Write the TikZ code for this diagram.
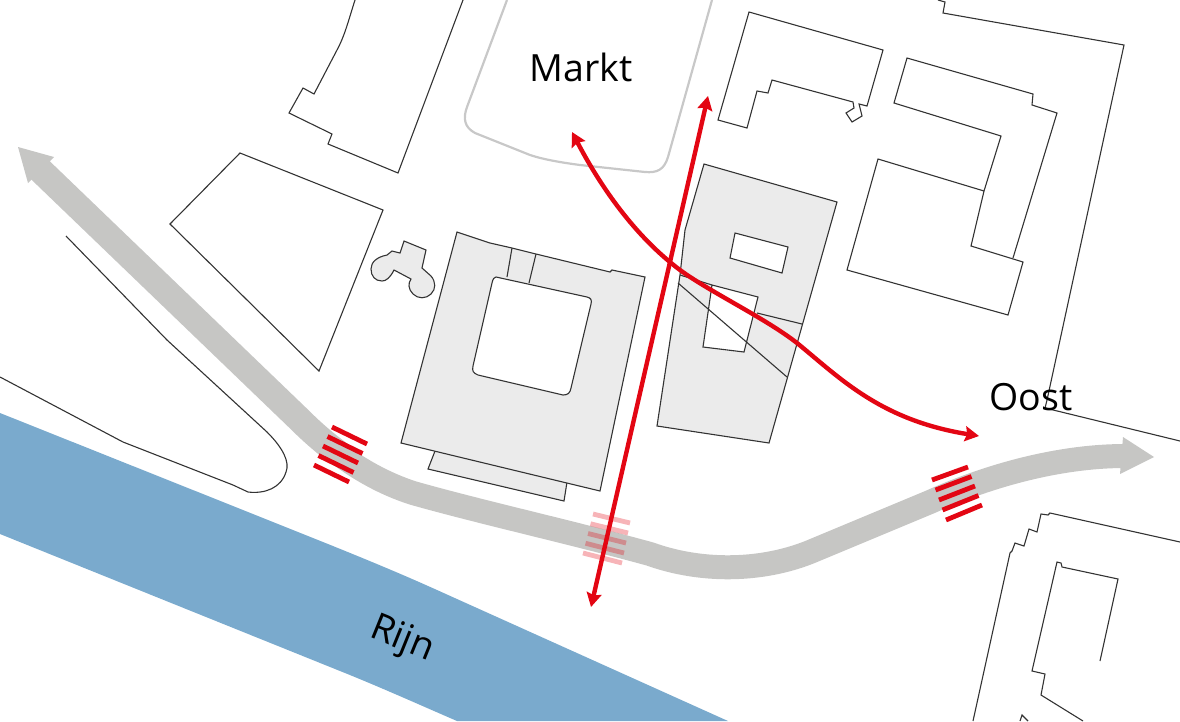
\documentclass[tikz,border=0pt]{standalone}
\usepackage{fontspec}
\setmainfont{Open Sans}
\usetikzlibrary{arrows.meta}
\definecolor{bldfill}{HTML}{EBEBEB}
\definecolor{roadgrey}{HTML}{C6C6C4}
\definecolor{river}{HTML}{7AAACD}
\definecolor{redline}{HTML}{E30613}
\definecolor{outline}{HTML}{333333}
\definecolor{marktline}{HTML}{C8C8C8}
\tikzset{
  bld/.style={draw=outline,line width=1.1pt,line join=miter},
  bldgrey/.style={bld,fill=bldfill},
  hole/.style={bld,fill=white},
  crossing/.style={line width=4.8pt,draw=redline},
  routeboth/.style={draw=redline,line width=4.4pt,{Stealth[length=14pt,width=15pt,inset=2pt]}-{Stealth[length=14pt,width=15pt,inset=2pt]}},
  lbl/.style={font=\fontsize{37.5}{40}\selectfont,inner sep=0pt,text=black}
}
\begin{document}
\begin{tikzpicture}[x=1pt,y=-1pt]
\useasboundingbox (0,0) rectangle (1180,721);
% river
\fill[river] (0,413) -- (243,510) .. controls (310,537) and (375,562) .. (437,590) -- (728,721) -- (457,721) .. controls (420,705) and (380,687) .. (340,671) -- (0,534) -- cycle;
% market square
\draw[marktline,line width=2.2pt] (507,0) -- (467,107) .. controls (463,118) and (464,127) .. (475,133) -- (530,155) .. controls (545,160) and (565,163) .. (580,165) -- (645,172) .. controls (657,173) and (664,170) .. (668,157) -- (712,0);
% plain buildings
\draw[bld] (355,0) .. controls (348,22) and (345,35) .. (337,50) -- (314,94) -- (303,88) -- (289,113) -- (332,134) -- (328,144) -- (398,173) -- (463,0);
\draw[bld] (240,153) -- (383,210) -- (319,371) -- (170,224) -- cycle;
\draw[bld] (749,12) -- (883,50) -- (867,106) -- (859,104) -- (862,116) -- (852,122) -- (846,113) -- (854,108) -- (853,102) -- (772,80) -- (768,93) -- (757,91) -- (747,128) -- (718,120) -- cycle;
\draw[bld] (984,191) -- (1001,136) -- (894,103) -- (907,58) -- (1033,94) -- (1032,105) -- (1057,113) -- (1013,258);
\draw[bld] (878,159) -- (984,191) -- (971,246) -- (1023,262) -- (1008,315) -- (847,270) -- cycle;
\draw[bld] (938,0) -- (945,2) -- (943,13) -- (1124,45) -- (1047,400) -- (1045,408) -- (1180,441);
\draw[bld] (973,721) -- (1010,553) -- (1012,551) -- (1015,543) -- (1024,546) -- (1029,529) -- (1037,532) -- (1041,514) -- (1048,515) -- (1050,513) -- (1180,542);
\draw[bld] (1100,661) -- (1118,579) -- (1062,567) -- (1061,563) -- (1057,562) -- (1032,671) -- (1045,674) -- (1041,695) -- (1083,721);
\draw[bld] (1020,721) -- (1022,715) -- (1028,721);
% road edge line
\draw[bld,line join=round] (66,236) -- (167,340) -- (267,432) .. controls (283,448) and (290,462) .. (286,472) .. controls (281,488) and (265,494) .. (248,492) -- (233,485) -- (123,442) -- (0,377);
% grey road with arrowheads
\draw[roadgrey,line width=26pt] (36,166) -- (300,420) .. controls (313,433) and (327,445) .. (341,455);
\draw[roadgrey,line width=24pt] (335,451) .. controls (358,469) and (385,484) .. (413,493) .. controls (480,512) and (570,532) .. (650,554) .. controls (700,572) and (760,572) .. (810,552) -- (930,502) .. controls (990,475) and (1060,456) .. (1125,456);
\fill[roadgrey] (18,147) -- (54,157) -- (28,183) -- cycle;
\fill[roadgrey] (1154,457) -- (1123,437) -- (1120,474) -- cycle;
% main building
\draw[bldgrey] (435,451) -- (428,469) -- (564,501) -- (567,482);
\draw[bldgrey] (457,232) -- (490,243) -- (512,248) -- (536,254) -- (610,272) -- (612,270) -- (645,277) -- (600,491) -- (401,443) -- cycle;
\draw[bld] (507,277) -- (512,248);
\draw[bld] (529,283) -- (536,254);
\draw[hole] (496,277) -- (587,297) .. controls (591,298) and (592,300) .. (591,304) -- (571,388) .. controls (570,393) and (568,395) .. (563,395) -- (478,375) .. controls (473,373) and (472,371) .. (473,366) -- (492,283) .. controls (493,279) and (494,277) .. (496,277) -- cycle;
% blob
\draw[bldgrey] (404,241) -- (426,250) -- (422,268) -- (431,276) .. controls (436,282) and (436,289) .. (431,294) .. controls (426,299) and (418,299) .. (413,294) .. controls (408,289) and (408,283) .. (411,279) -- (394,270) .. controls (390,278) and (386,281) .. (382,281) .. controls (375,281) and (371,276) .. (371,269) .. controls (371,262) and (377,257) .. (387,255) -- (392,251) -- (400,253) -- cycle;
% centre building
\draw[bldgrey] (704,164) -- (837,202) -- (769,443) -- (657,426) -- (680,275) -- (685,230) -- cycle;
\draw[hole] (735,233) -- (788,247) -- (782,273) -- (730,258) -- cycle;
\draw[hole] (712,285) -- (758,297) -- (744,352) -- (703,347) -- cycle;
\draw[bld] (680,275) -- (712,285);
\draw[bld] (678,283) -- (787,377);
\draw[bld] (757,313) -- (802,324);
% crossings
\foreach \i in {0,...,4}{
  \draw[crossing] ({332-18*\i/4},{427+38*\i/4}) -- ({367-18*\i/4},{444+38*\i/4});
  \draw[crossing] ({932+14*\i/4},{480+40*\i/4}) -- ({968+14*\i/4},{467+38*\i/4});
  \draw[crossing,opacity=.3] ({593-10*\i/4},{514+39*\i/4}) -- ({630-8*\i/4},{523+40*\i/4});
}
% routes
\coordinate (nTop) at (708,96);
\coordinate (nBot) at (591,607);
\coordinate (rStart) at (572,132);
\coordinate (rEnd) at (979,436);
\draw[routeboth] (nBot) -- (nTop);
\draw[routeboth] (rStart) .. controls (605,195) and (640,240) .. (680,270) .. controls (710,292) and (765,318) .. (797,343) .. controls (840,378) and (880,420) .. (rEnd);
% labels
\node[lbl] (markt) at (581,67) {Markt};
\node[lbl] (oost) at (1031,397) {Oost};
\node[lbl,rotate=-22] (rijn) at (402,640) {Rijn};
\end{tikzpicture}
\end{document}
